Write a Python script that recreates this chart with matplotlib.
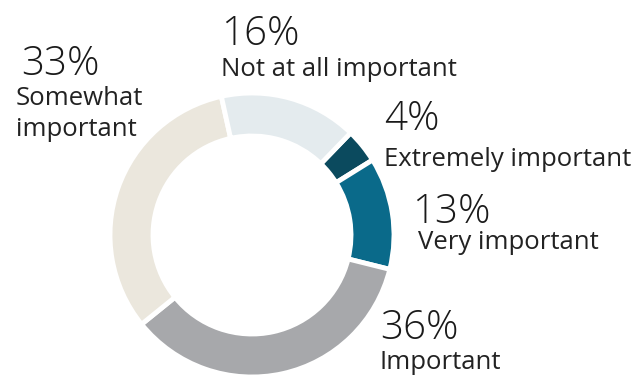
import matplotlib
matplotlib.use("Agg")
import matplotlib.pyplot as plt

categories = ["Extremely important", "Very important", "Important",
              "Somewhat important", "Not at all important"]
shares = [4, 13, 36, 33, 16]
colors = ["#0b4a5e", "#0a6a8a", "#a7a8ab", "#ebe7dd", "#e4ebee"]

# label text, with the line break used in the chart
label_text = ["Extremely important", "Very important", "Important",
              "Somewhat\nimportant", "Not at all important"]
# pixel anchors (left, baseline) of the percentage and the label's first line
pct_pos = [(384, 130), (412, 223), (380, 339), (21, 75), (221, 45)]
lab_pos = [(384, 166), (418, 249), (379, 369), (16, 105), (221, 76)]

W, H = 640, 375
fig = plt.figure(figsize=(W / 100, H / 100), dpi=100)
ax = fig.add_axes([0, 0, 1, 1])

cx, cy, r_out, r_in = 252, H - 235, 142, 99
ax.pie(shares, colors=colors, startangle=46, counterclock=False,
       center=(cx, cy), radius=r_out, frame=True,
       wedgeprops=dict(width=r_out - r_in, edgecolor="white", linewidth=3.5))
ax.set_xlim(0, W)
ax.set_ylim(0, H)
ax.set_aspect("equal")
ax.axis("off")

fam = ["Open Sans", "DejaVu Sans"]
for v, t, (px, py), (lx, ly) in zip(shares, label_text, pct_pos, lab_pos):
    ax.text(px, H - py, f"{v}%", ha="left", va="baseline", fontsize=29,
            family=fam, weight="light", color="#1a1a1a")
    for i, line in enumerate(t.split("\n")):
        ax.text(lx, H - ly - i * 31, line, ha="left", va="baseline",
                fontsize=18.5, family=fam, color="#222222")

fig.savefig("out.png", dpi=100)
